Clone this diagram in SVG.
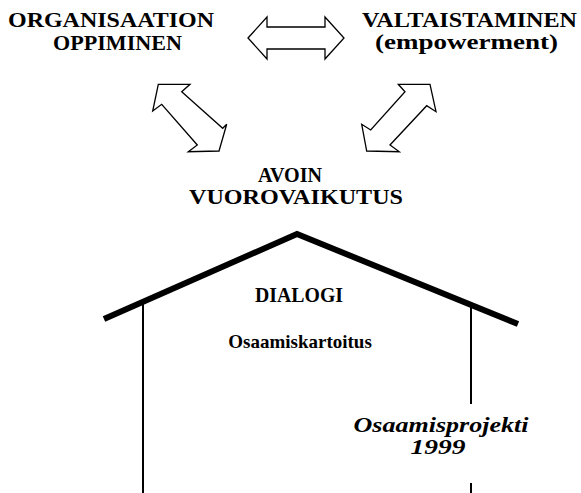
<svg xmlns="http://www.w3.org/2000/svg" width="581" height="493" viewBox="0 0 581 493">
  <style>
    .t { font-family: "Liberation Serif", "Times New Roman", serif; font-weight: bold; font-size: 21px; fill: #000; text-anchor: middle; }
    .ti { font-style: italic; }
    .arrow { fill: #fff; stroke: #000; stroke-width: 1.3; stroke-linejoin: miter; }
    .roof { fill: none; stroke: #000; stroke-width: 6; stroke-linejoin: miter; stroke-linecap: butt; }
    .wall { stroke: #000; stroke-width: 2; }
  </style>
  <rect width="581" height="493" fill="#fff"/>

  <g id="organisaation-oppiminen">
    <text class="t" x="111" y="27" textLength="206" lengthAdjust="spacingAndGlyphs">ORGANISAATION</text>
    <text class="t" x="117.5" y="49.5" textLength="129" lengthAdjust="spacingAndGlyphs">OPPIMINEN</text>
  </g>

  <g id="valtaistaminen">
    <text class="t" x="469.5" y="27" textLength="215" lengthAdjust="spacingAndGlyphs">VALTAISTAMINEN</text>
    <text class="t" x="466.5" y="49" textLength="183" lengthAdjust="spacingAndGlyphs">(empowerment)</text>
  </g>

  <g id="avoin-vuorovaikutus">
    <text class="t" x="290" y="182" textLength="64" lengthAdjust="spacingAndGlyphs">AVOIN</text>
    <text class="t" x="296" y="204" textLength="214" lengthAdjust="spacingAndGlyphs">VUOROVAIKUTUS</text>
  </g>

  <g id="connectors">
    <!-- horizontal double arrow -->
    <polygon class="arrow" points="248,38 267,17 267,27 325,27 325,17 344,38 325,59 325,49 267,49 267,59"/>
    <!-- left diagonal double arrow -->
    <polygon class="arrow" points="158.3,84.3 190,84.3 181.7,91.7 222.7,128.3 226.7,124.3 219,151 188.3,151.7 197.3,145 161.7,104.3 152.7,111"/>
    <!-- right diagonal double arrow -->
    <polygon class="arrow" points="430,84.3 436,111.7 426.7,105.7 390,145 399.3,151.7 366.7,151 361.7,124.3 370.7,130 405,91.7 398.3,84.3"/>
  </g>

  <g id="talo">
    <polyline class="roof" points="104,319 297,234 518,324"/>
    <line class="wall" x1="143" y1="302" x2="143" y2="493"/>
    <line class="wall" x1="471" y1="305" x2="471" y2="404"/>
    <line class="wall" x1="471" y1="483" x2="471" y2="493"/>
  </g>

  <g id="dialogi">
    <text class="t" x="299" y="302" textLength="88" lengthAdjust="spacingAndGlyphs">DIALOGI</text>
    <text class="t" x="300" y="348" style="font-size:19px">Osaamiskartoitus</text>
  </g>

  <g id="osaamisprojekti">
    <text class="t ti" x="441" y="432" textLength="175" lengthAdjust="spacingAndGlyphs">Osaamisprojekti</text>
    <text class="t ti" x="438" y="454" textLength="55" lengthAdjust="spacingAndGlyphs">1999</text>
  </g>
</svg>
